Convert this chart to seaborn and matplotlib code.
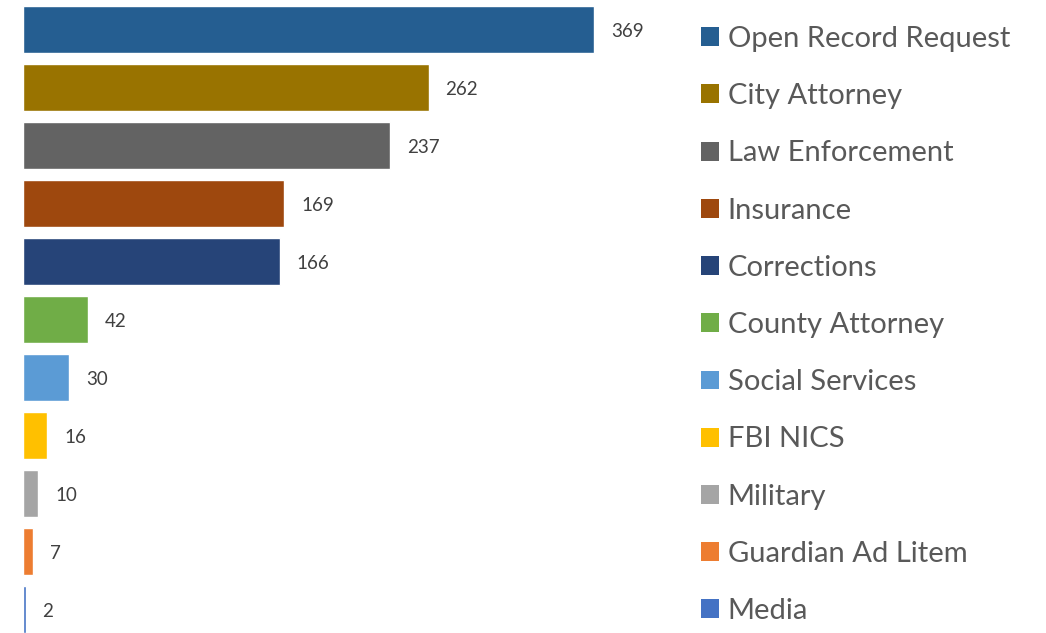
import matplotlib
matplotlib.use("Agg")
import matplotlib.pyplot as plt
from matplotlib.patches import Patch
import seaborn as sns
import pandas as pd

categories = ["Open Record Request", "City Attorney", "Law Enforcement", "Insurance",
              "Corrections", "County Attorney", "Social Services", "FBI NICS",
              "Military", "Guardian Ad Litem", "Media"]
values = [369, 262, 237, 169, 166, 42, 30, 16, 10, 7, 2]
colors = ["#255E91", "#997300", "#636363", "#9E480E", "#264478", "#70AD47",
          "#5B9BD5", "#FFC000", "#A5A5A5", "#ED7D31", "#4472C4"]

sns.set_theme(style="white")
plt.rcParams['font.family'] = ['Lato', 'DejaVu Sans']

df = pd.DataFrame({"cat": categories, "val": values})
fig = plt.figure(figsize=(10.46, 6.33), dpi=100)
ax = fig.add_axes([22.5/1046, 0, (680-22.5)/1046, 1])
sns.barplot(data=df, x="val", y="cat", hue="cat", palette=dict(zip(categories, colors)),
            width=0.82, legend=False, ax=ax, saturation=1)
ax.set_xlim(0, (680-22.5)/1.55)
ax.set_ylim(10.405, -0.509)
ax.set_xlabel("")
ax.set_ylabel("")
ax.set_xticks([])
ax.set_yticks([])
for s in ax.spines.values():
    s.set_visible(False)

for i, v in enumerate(values):
    ax.annotate(str(v), (v, i), xytext=(17, -2), textcoords="offset pixels",
                ha="left", va="center", fontsize=13.5, color="#404040")

handles = [Patch(facecolor=c, edgecolor="none") for c in colors]
leg = fig.legend(handles, categories, loc="upper left", bbox_to_anchor=(701/1046, 1 - 26/633),
                 frameon=False, fontsize=21, labelcolor="#595959",
                 handlelength=0.62, handleheight=0.62, handletextpad=0.3,
                 labelspacing=1.07, borderaxespad=0, borderpad=0)

fig.savefig("out.png", dpi=100)
